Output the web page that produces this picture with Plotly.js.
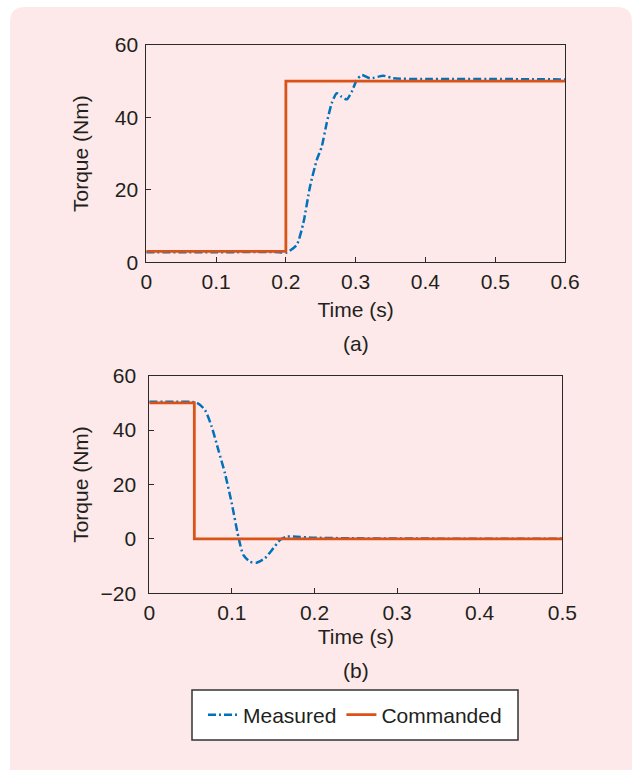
<!DOCTYPE html>
<html>
<head>
<meta charset="utf-8">
<script src="https://cdn.plot.ly/plotly-3.0.1.min.js"></script>
<style>html,body{margin:0;padding:0;background:#fff;}#chart{width:642px;height:770px;}</style>
</head>
<body>
<div id="chart"></div>
<script>
// (a) step up
const timeA_cmd = [0, 0.2, 0.2, 0.6];
const torqueA_cmd = [3, 3, 50, 50];
const timeA_meas = [0, 0.1, 0.19, 0.201, 0.2155, 0.225, 0.2346, 0.2442, 0.2513, 0.2585, 0.2657, 0.2729, 0.28, 0.2872, 0.2944, 0.3015, 0.3087, 0.3206, 0.3397, 0.354, 0.4, 0.5, 0.6];
const torqueA_meas = [2.8, 2.8, 2.8, 2.7, 4.8, 10.8, 20.9, 28.2, 31.9, 38.4, 43.9, 46.7, 45.7, 45.0, 47.1, 50.3, 51.7, 50.8, 51.5, 50.8, 50.6, 50.6, 50.5];
// (b) step down
const timeB_cmd = [0, 0.0545, 0.0545, 0.5];
const torqueB_cmd = [50, 50, 0, 0];
const timeB_meas = [0, 0.03, 0.0574, 0.0674, 0.0755, 0.0836, 0.0916, 0.0998, 0.1078, 0.1138, 0.1219, 0.13, 0.14, 0.150, 0.1582, 0.1663, 0.1785, 0.1985, 0.25, 0.35, 0.5];
const torqueB_meas = [50.4, 50.4, 50.1, 47.4, 41.3, 32.7, 24.1, 13.1, 0.8, -5.9, -8.4, -8.75, -7.1, -3.5, -0.4, 0.8, 0.8, 0.45, 0.2, 0.1, 0.1];

const xTicksA = [0, 0.1, 0.2, 0.3, 0.4, 0.5, 0.6];
const xTicksB = [0, 0.1, 0.2, 0.3, 0.4, 0.5];
const yTicksA = [0, 20, 40, 60];
const yTicksB = [-20, 0, 20, 40, 60];

const BLUE = '#0072bd', ORANGE = '#d95319';
const FONT = 'Liberation Sans, Arial, Helvetica, sans-serif';
const DASH = '8px,3px,2px,3px';

const traces = [
  {x: timeA_meas, y: torqueA_meas, xaxis: 'x', yaxis: 'y', name: 'Measured', mode: 'lines',
   line: {color: BLUE, width: 2.5, dash: DASH, shape: 'spline', smoothing: 0.6}},
  {x: timeA_cmd, y: torqueA_cmd, xaxis: 'x', yaxis: 'y', name: 'Commanded', mode: 'lines',
   line: {color: ORANGE, width: 2.8}},
  {x: timeB_meas, y: torqueB_meas, xaxis: 'x2', yaxis: 'y2', name: 'Measured', mode: 'lines', showlegend: false,
   line: {color: BLUE, width: 2.5, dash: DASH, shape: 'spline', smoothing: 0.6}},
  {x: timeB_cmd, y: torqueB_cmd, xaxis: 'x2', yaxis: 'y2', name: 'Commanded', mode: 'lines', showlegend: false,
   line: {color: ORANGE, width: 2.8}}
];

const W = 642, H = 770;
function px(v){return v / W;}
function py(v){return (H - v) / H;}

const axCommon = {
  showgrid: false, zeroline: false, showline: true, linecolor: '#2a2a2a', linewidth: 1,
  mirror: true, ticks: 'inside', ticklen: 5, tickcolor: '#2a2a2a', tickwidth: 1,
  tickfont: {family: FONT, size: 21, color: '#231f20'}, fixedrange: true
};
const titleFont = {family: FONT, size: 21, color: '#231f20'};

const layout = {
  width: W, height: H,
  margin: {l: 0, r: 0, t: 0, b: 0},
  paper_bgcolor: '#ffffff',
  plot_bgcolor: '#f4f6f8',
  showlegend: true,
  font: {family: FONT, color: '#231f20'},
  xaxis: Object.assign({}, axCommon, {domain: [px(146.3), px(565)], range: [0, 0.6], tickvals: xTicksA,
    ticktext: xTicksA.map(String), anchor: 'y', ticklabelstandoff: 0,
    title: {text: 'Time (s)', font: titleFont, standoff: 10}}),
  yaxis: Object.assign({}, axCommon, {domain: [py(262.3), py(45)], range: [0, 60], tickvals: yTicksA, anchor: 'x',
    ticklabelstandoff: 3,
    title: {text: 'Torque (Nm)', font: titleFont, standoff: 20}}),
  xaxis2: Object.assign({}, axCommon, {domain: [px(149.3), px(562.3)], range: [0, 0.5], tickvals: xTicksB,
    ticktext: xTicksB.map(String), anchor: 'y2', ticklabelstandoff: 0,
    title: {text: 'Time (s)', font: titleFont, standoff: 6}}),
  yaxis2: Object.assign({}, axCommon, {domain: [py(593.3), py(375.7)], range: [-20, 60], tickvals: yTicksB, anchor: 'x2',
    ticklabelstandoff: 8,
    title: {text: 'Torque (Nm)', font: titleFont, standoff: 6}}),
  legend: {orientation: 'h', x: px(203), xanchor: 'left', y: py(715), yanchor: 'middle',
    bgcolor: 'rgba(0,0,0,0)', borderwidth: 0,
    font: {family: FONT, size: 21, color: '#231f20'}, itemwidth: 30, traceorder: 'normal'},
  annotations: [
    {text: '(a)', xref: 'paper', yref: 'paper', x: px(356), y: py(343), xanchor: 'center', yanchor: 'middle',
     showarrow: false, font: titleFont},
    {text: '(b)', xref: 'paper', yref: 'paper', x: px(356), y: py(670), xanchor: 'center', yanchor: 'middle',
     showarrow: false, font: titleFont}
  ],
  shapes: [
    {type: 'path', xref: 'paper', yref: 'paper', layer: 'below',
     path: 'M ' + px(10) + ',' + py(770) + ' L ' + px(10) + ',' + py(22) + ' Q ' + px(10) + ',' + py(7) + ' ' + px(25) + ',' + py(7) +
           ' L ' + px(617) + ',' + py(7) + ' Q ' + px(632) + ',' + py(7) + ' ' + px(632) + ',' + py(22) + ' L ' + px(632) + ',' + py(770) + ' Z',
     fillcolor: '#fde9e9', line: {width: 0}},
    {type: 'rect', xref: 'paper', yref: 'paper', layer: 'above',
     x0: px(192), x1: px(518), y0: py(740), y1: py(690),
     fillcolor: '#ffffff', line: {color: '#333333', width: 1.5}}
  ]
};

Plotly.newPlot('chart', traces, layout, {displayModeBar: false, staticPlot: true});
</script>
</body>
</html>
